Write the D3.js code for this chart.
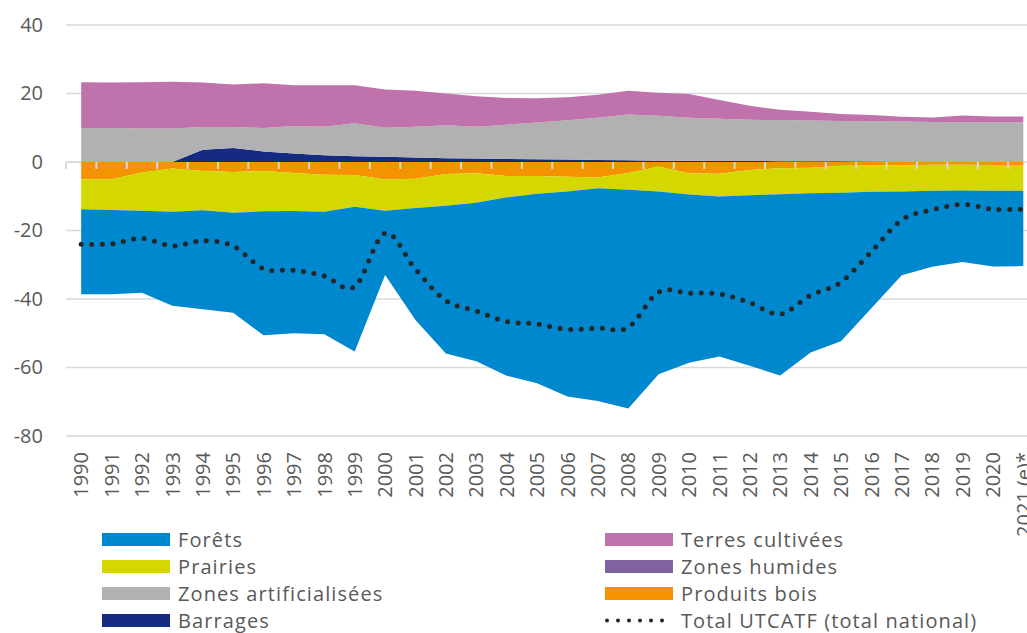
<!DOCTYPE html>
<html>
<head>
<meta charset="utf-8">
<script src="https://cdn.jsdelivr.net/npm/d3@7"></script>
<style>
	body { margin: 0; background: #ffffff; }
	svg { display: block; }
</style>
</head>
<body>
<div class="chartfield"></div>
<script>
var years = ["1990","1991","1992","1993","1994","1995","1996","1997","1998","1999","2000","2001","2002","2003","2004","2005","2006","2007","2008","2009","2010","2011","2012","2013","2014","2015","2016","2017","2018","2019","2020","2021 (e)*"];

var forets = [-24.8,-24.6,-24.0,-27.5,-28.9,-29.2,-36.2,-35.7,-35.8,-42.2,-18.8,-32.7,-43.1,-46.3,-52.1,-55.3,-59.9,-62.1,-63.9,-53.4,-49.1,-46.7,-49.8,-52.9,-46.5,-43.3,-34.0,-24.5,-22.2,-20.9,-22.1,-22.0];
var prairies = [-8.8,-9.0,-11.1,-12.6,-11.5,-11.9,-11.8,-11.1,-10.8,-9.3,-9.1,-8.5,-9.3,-8.6,-6.2,-5.2,-4.3,-3.2,-4.9,-7.3,-6.2,-6.7,-7.4,-7.6,-7.4,-7.9,-7.7,-7.6,-7.6,-7.5,-7.5,-7.5];
var produitsBois = [-5.0,-5.0,-3.1,-1.9,-2.6,-2.9,-2.6,-3.2,-3.7,-3.8,-5.1,-4.9,-3.5,-3.3,-4.1,-4.1,-4.3,-4.5,-3.2,-1.3,-3.3,-3.4,-2.3,-1.8,-1.7,-1.1,-1.0,-1.0,-0.8,-0.8,-0.9,-0.9];
var barrages = [0,0,0,0,3.6,4.1,3.1,2.5,2.0,1.7,1.5,1.3,1.1,1.0,0.9,0.8,0.7,0.6,0.5,0.4,0.35,0.3,0.3,0.25,0.2,0.2,0.15,0.1,0.1,0.1,0.1,0.1];
var artificialisees = [9.9,9.9,9.8,9.8,6.6,6.1,6.8,8.0,8.3,9.6,8.5,9.0,9.6,9.3,10.0,10.7,11.5,12.3,13.4,13.1,12.6,12.3,12.0,12.0,11.9,11.8,11.75,11.7,11.6,11.5,11.4,11.4];
var terres = [13.4,13.3,13.5,13.6,13.0,12.4,13.1,11.9,12.1,11.1,11.2,10.5,9.3,8.9,7.8,7.1,6.7,6.7,6.9,6.7,6.9,5.5,4.1,3.0,2.6,2.0,1.8,1.4,1.3,2.0,1.8,1.8];
var humides = [0,0,0,0,0,0,0,0,0,0,0,0,0,0,0,0,0,0,0,0,0,0,0,0,0,0,0,0,0,0,0,0];
var total = [-24.0,-23.9,-22.3,-24.5,-23.0,-24.5,-31.2,-31.6,-33.3,-36.4,-20.8,-31.3,-40.5,-43.5,-46.6,-47.3,-48.9,-48.5,-48.3,-38.0,-38.3,-38.5,-41.1,-44.4,-38.9,-35.1,-26.2,-16.9,-14.0,-12.4,-13.8,-13.8];
var yTicks = [40, 20, 0, -20, -40, -60, -80];

var width = 1027;
var height = 633;
var svg;
var x, y;
var fontName = "'Open Sans', sans-serif";

// stack order: positives go up from 0, negatives go down from 0
var series = [
	{name: "Barrages", values: barrages, color: "#162a81"},
	{name: "Zones artificialisées", values: artificialisees, color: "#b1b1b1"},
	{name: "Terres cultivées", values: terres, color: "#bf72ac"},
	{name: "Zones humides", values: humides, color: "#7f63a1"},
	{name: "Produits bois", values: produitsBois, color: "#f59200"},
	{name: "Prairies", values: prairies, color: "#d4d800"},
	{name: "Forêts", values: forets, color: "#0088ce"}
];

var legendLeft = ["Forêts", "Prairies", "Zones artificialisées", "Barrages"];
var legendRight = ["Terres cultivées", "Zones humides", "Produits bois"];

function svginit() {
	svg = d3.select(".chartfield")
	.append("svg")
	.attr("width", width)
	.attr("height", height);

	x = d3.scalePoint()
	.domain(years)
	.range([66, 1038.5])
	.padding(0.5);

	y = d3.scaleLinear()
	.domain([-80, 40])
	.range([436, 25]);
}

function drawGrid() {
	var grid = svg.append("g");
	grid.selectAll("line")
	.data(yTicks)
	.enter()
	.append("line")
	.attr("x1", 66)
	.attr("x2", width)
	.attr("y1", function(d) { return y(d); })
	.attr("y2", function(d) { return y(d); })
	.attr("stroke", "#d9d9d9")
	.attr("stroke-width", 1.5);

	var yAxis = svg.append("g")
	.attr("transform", "translate(43,0)")
	.call(d3.axisLeft(y).tickValues(yTicks).tickSize(0).tickPadding(0)
		.tickFormat(function(d) { return String(d); }));
	yAxis.select(".domain").remove();
	yAxis.selectAll("text")
	.attr("font-family", fontName)
	.attr("font-size", 20)
	.attr("fill", "#595959");
}

function drawAreas() {
	var rows = years.map(function(yr, i) {
		var r = {year: yr};
		series.forEach(function(s) { r[s.name] = s.values[i]; });
		return r;
	});
	var stack = d3.stack()
	.keys(series.map(function(s) { return s.name; }))
	.offset(d3.stackOffsetDiverging);
	var stacked = stack(rows);

	var area = d3.area()
	.x(function(d) { return x(d.data.year); })
	.y0(function(d) { return y(d[0]); })
	.y1(function(d) { return y(d[1]); });

	svg.append("g")
	.selectAll("path")
	.data(stacked)
	.enter()
	.append("path")
	.attr("d", area)
	.attr("fill", function(d, i) { return series[i].color; });
}

function drawXAxis() {
	// tick marks sit between the categories
	var step = x.step();
	var ticks = d3.range(years.length + 1).map(function(k) { return 66 + k * step; });
	svg.append("g")
	.selectAll("line")
	.data(ticks)
	.enter()
	.append("line")
	.attr("x1", function(d) { return d; })
	.attr("x2", function(d) { return d; })
	.attr("y1", y(0))
	.attr("y2", y(0) + 7)
	.attr("stroke", "#d9d9d9")
	.attr("stroke-width", 2);

	svg.append("line")
	.attr("x1", 66)
	.attr("x2", 81)
	.attr("y1", y(0))
	.attr("y2", y(0))
	.attr("stroke", "#d9d9d9")
	.attr("stroke-width", 1.5);

	svg.append("g")
	.selectAll("text")
	.data(years)
	.enter()
	.append("text")
	.attr("transform", function(d) { return "translate(" + x(d) + ",452) rotate(-90)"; })
	.attr("text-anchor", "end")
	.attr("dy", "0.36em")
	.attr("font-family", fontName)
	.attr("font-size", 20)
	.attr("fill", "#595959")
	.text(function(d) { return d; });
}

function drawTotal() {
	var line = d3.line()
	.x(function(d, i) { return x(years[i]); })
	.y(function(d) { return y(d); })
	.curve(d3.curveCatmullRom.alpha(0));

	svg.append("path")
	.datum(total)
	.attr("d", line)
	.attr("fill", "none")
	.attr("stroke", "#262626")
	.attr("stroke-width", 5)
	.attr("stroke-linecap", "round")
	.attr("stroke-dasharray", "0 10.6");
}

function colorOf(name) {
	for (var i = 0; i < series.length; i++) {
		if (series[i].name == name) return series[i].color;
	}
}

function drawLegend() {
	var rowY = [539.5, 566.5, 593.5, 620.5];
	var lg = svg.append("g");

	var left = lg.selectAll(".lgl")
	.data(legendLeft)
	.enter()
	.append("g")
	.attr("transform", function(d, i) { return "translate(102," + rowY[i] + ")"; });
	left.append("rect")
	.attr("x", 0).attr("y", -6.5)
	.attr("width", 68).attr("height", 13)
	.attr("fill", function(d) { return colorOf(d); });
	left.append("text")
	.attr("x", 76)
	.attr("dy", "0.35em")
	.attr("font-family", fontName)
	.attr("font-size", 20)
	.attr("letter-spacing", 1.1)
	.attr("fill", "#595959")
	.text(function(d) { return d; });

	var right = lg.selectAll(".lgr")
	.data(legendRight)
	.enter()
	.append("g")
	.attr("transform", function(d, i) { return "translate(605," + rowY[i] + ")"; });
	right.append("rect")
	.attr("x", 0).attr("y", -6.5)
	.attr("width", 68).attr("height", 13)
	.attr("fill", function(d) { return colorOf(d); });
	right.append("text")
	.attr("x", 76)
	.attr("dy", "0.35em")
	.attr("font-family", fontName)
	.attr("font-size", 20)
	.attr("letter-spacing", 1.1)
	.attr("fill", "#595959")
	.text(function(d) { return d; });

	var tot = lg.append("g")
	.attr("transform", "translate(605," + rowY[3] + ")");
	tot.append("line")
	.attr("x1", 2).attr("x2", 68)
	.attr("y1", 0).attr("y2", 0)
	.attr("stroke", "#262626")
	.attr("stroke-width", 4)
	.attr("stroke-linecap", "round")
	.attr("stroke-dasharray", "0 11");
	tot.append("text")
	.attr("x", 76)
	.attr("dy", "0.35em")
	.attr("font-family", fontName)
	.attr("font-size", 20)
	.attr("letter-spacing", 1.1)
	.attr("fill", "#595959")
	.text("Total UTCATF (total national)");
}

svginit();
drawGrid();
drawAreas();
drawXAxis();
drawTotal();
drawLegend();
</script>
</body>
</html>
